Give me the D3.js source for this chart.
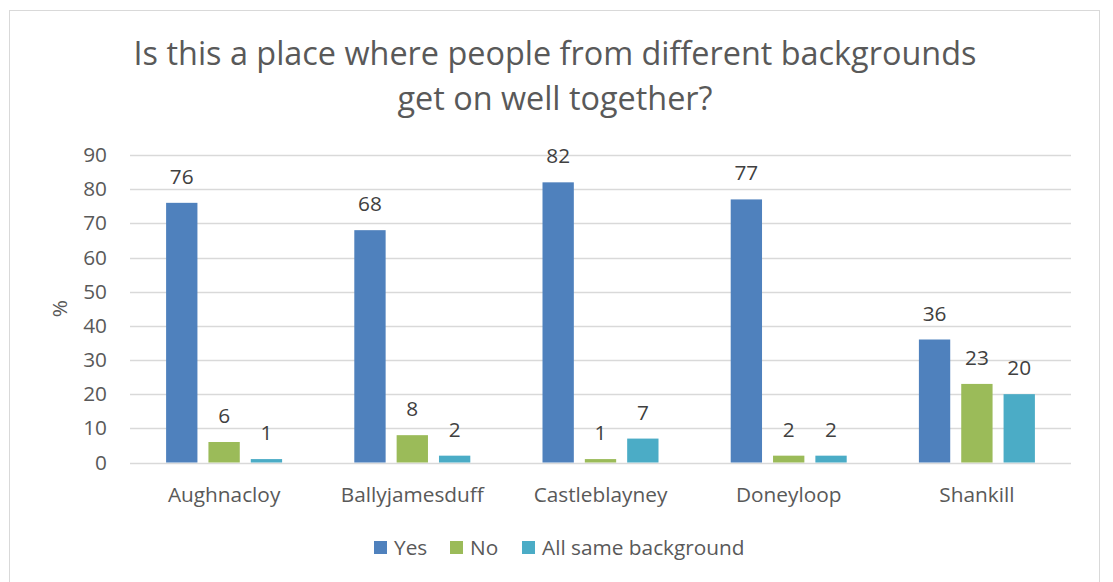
<!DOCTYPE html>
<html>
<head>
<meta charset="utf-8">
<script src="https://cdn.jsdelivr.net/npm/d3@7"></script>
<style>
  html, body { margin: 0; padding: 0; background: #fff; }
  svg { display: block; }
  text { font-family: "Open Sans", sans-serif; }
</style>
</head>
<body>
<svg id="chart" width="1113" height="582"></svg>
<script>
// Survey responses by town (%)
const categories = ["Aughnacloy", "Ballyjamesduff", "Castleblayney", "Doneyloop", "Shankill"];
const seriesNames = ["Yes", "No", "All same background"];
const yesValues = [76, 68, 82, 77, 36];
const noValues = [6, 8, 1, 2, 23];
const sameValues = [1, 2, 7, 2, 20];
const yTicks = [0, 10, 20, 30, 40, 50, 60, 70, 80, 90];
const colors = ["#4F81BD", "#9BBB59", "#4BACC6"];

const seriesValues = [yesValues, noValues, sameValues];
const FONT = "'Open Sans', sans-serif";
const LABEL_SIZE = 20.8;

const svg = d3.select("#chart");

// Outer chart frame
svg.append("rect")
  .attr("x", 9.5).attr("y", 10.5)
  .attr("width", 1090).attr("height", 580)
  .attr("fill", "#fff").attr("stroke", "#d9d9d9").attr("stroke-width", 1);

// Title
const title = svg.append("text")
  .attr("text-anchor", "middle")
  .attr("fill", "#595959")
  .attr("font-size", 32.4);
title.append("tspan").attr("x", 555).attr("y", 65).text("Is this a place where people from different backgrounds");
title.append("tspan").attr("x", 555).attr("y", 110).text("get on well together?");

const plot = { left: 130, right: 1071, top: 155, bottom: 462.5 };

const x0 = d3.scaleBand().domain(categories).range([plot.left, plot.right]).paddingInner(0).paddingOuter(0);
const x1 = d3.scaleBand().domain(seriesNames).range([0, 116]).paddingInner(0.26);
const y = d3.scaleLinear().domain([0, 90]).range([plot.bottom, plot.top]);

// Horizontal gridlines
svg.append("g")
  .selectAll("line")
  .data(yTicks)
  .join("line")
  .attr("x1", plot.left).attr("x2", plot.right)
  .attr("y1", d => Math.round(y(d)) + 0.5).attr("y2", d => Math.round(y(d)) + 0.5)
  .attr("stroke", "#d9d9d9").attr("stroke-width", 1.3);

// Y axis tick labels
const yAxis = d3.axisLeft(y).tickValues(yTicks).tickSize(0).tickPadding(0);
const yg = svg.append("g").attr("transform", `translate(${plot.left - 23},0)`).call(yAxis);
yg.select(".domain").remove();
yg.selectAll("text").attr("font-size", LABEL_SIZE).attr("fill", "#595959").attr("font-family", FONT);

// Y axis title
svg.append("text")
  .attr("transform", `translate(67,${(plot.top + plot.bottom) / 2}) rotate(-90)`)
  .attr("text-anchor", "middle")
  .attr("font-size", LABEL_SIZE).attr("fill", "#595959")
  .text("%");

// Bars
const groups = svg.append("g")
  .selectAll("g")
  .data(categories)
  .join("g")
  .attr("transform", d => `translate(${x0(d) + (x0.bandwidth() - 116) / 2},0)`);

const cells = (d, i) => seriesNames.map((s, j) => ({ s, v: seriesValues[j][i], j }));

groups.selectAll("rect")
  .data(cells)
  .join("rect")
  .attr("x", d => x1(d.s))
  .attr("y", d => y(d.v))
  .attr("width", x1.bandwidth())
  .attr("height", d => y(0) - y(d.v))
  .attr("fill", d => colors[d.j]);

// Data labels
groups.selectAll("text.val")
  .data(cells)
  .join("text")
  .attr("class", "val")
  .attr("x", d => x1(d.s) + x1.bandwidth() / 2)
  .attr("y", d => y(d.v) - 19)
  .attr("text-anchor", "middle")
  .attr("font-size", LABEL_SIZE).attr("fill", "#404040")
  .text(d => d.v);

// X axis category labels
const xAxis = d3.axisBottom(x0).tickSize(0).tickPadding(0);
const xg = svg.append("g").attr("transform", `translate(0,${plot.bottom})`).call(xAxis);
xg.select(".domain").remove();
xg.selectAll("text").attr("font-size", LABEL_SIZE).attr("fill", "#595959").attr("font-family", FONT)
  .attr("dy", null).attr("y", 39);

// Legend
const legendItems = [
  { name: seriesNames[0], x: 374 },
  { name: seriesNames[1], x: 450 },
  { name: seriesNames[2], x: 522 }
];
const lg = svg.append("g");
legendItems.forEach((item, i) => {
  lg.append("rect").attr("x", item.x).attr("y", 541).attr("width", 13).attr("height", 13).attr("fill", colors[i]);
  lg.append("text").attr("x", item.x + 20).attr("y", 555)
    .attr("font-size", LABEL_SIZE).attr("fill", "#595959").text(item.name);
});
</script>
</body>
</html>
